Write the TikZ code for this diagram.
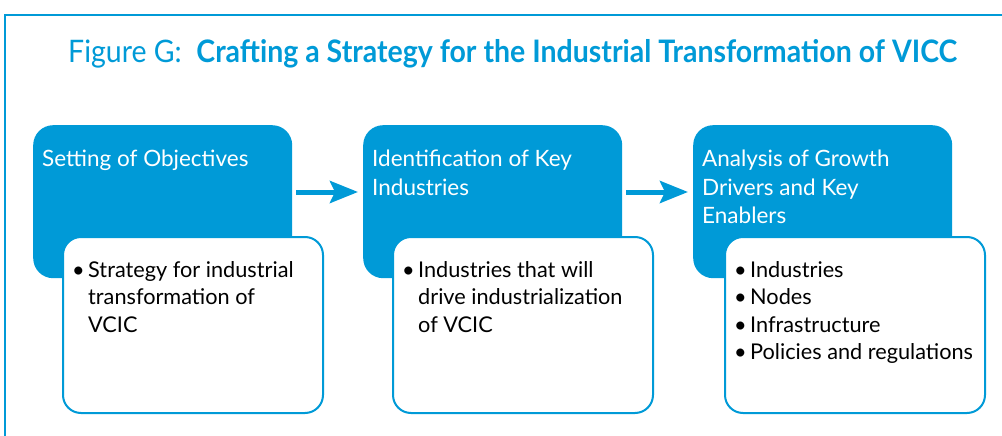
\documentclass[tikz,border=0pt]{standalone}
\usepackage{fontspec}
\setmainfont{Lato}
\usetikzlibrary{arrows.meta,calc}
\definecolor{adbblue}{RGB}{0,154,215}
\newcommand\bul{\makebox[16pt][l]{\textbullet}}
\newcommand\ind{\hspace*{16pt}}
\begin{document}
\begin{tikzpicture}[x=1pt,y=-1pt,
  bluebox/.style={fill=adbblue,draw=none,rounded corners=20pt,minimum width=259pt,minimum height=153pt,anchor=north west,inner sep=0pt},
  whitebox/.style={fill=white,draw=adbblue,line width=2pt,rounded corners=18pt,minimum width=260pt,minimum height=176pt,anchor=north west,inner sep=0pt},
  headtext/.style={text=white,anchor=north west,align=left,inner sep=0pt,font=\fontsize{22.5}{28.5}\selectfont},
  bodytext/.style={text=black,anchor=north west,align=left,inner sep=0pt,font=\fontsize{21.7}{27.5}\selectfont},
  flowarrow/.style={draw=adbblue,line width=5pt,-{Stealth[length=28pt,width=22pt,inset=5pt]}},
  frameline/.style={draw=adbblue,line width=1.5pt}]
\useasboundingbox (0,0) rectangle (1002,436);
\coordinate (fa) at (5,436);
\coordinate (fb) at (5,15);
\coordinate (fc) at (1002,15);
\draw[frameline] (fa) -- (fb) -- (fc);
\node[anchor=base west,inner sep=0pt,text=adbblue,font=\fontsize{31}{36}\selectfont] (title) at (68,63) {\scalebox{0.919}[1]{Figure G:\ \ \textbf{Crafting a Strategy for the Industrial Transformation of VICC}}};

\node[bluebox] (b1) at (33,125) {};
\node[bluebox] (b2) at (363,125) {};
\node[bluebox] (b3) at (693,125) {};

\node[headtext] (h1) at (42,150) {Setting of Objectives};
\node[headtext] (h2) at (372,150) {Identification of Key\\Industries};
\node[headtext] (h3) at (702,150) {Analysis of Growth\\Drivers and Key\\Enablers};

\node[whitebox] (w1) at (62,236) {};
\node[whitebox] (w2) at (392,236) {};
\node[whitebox] (w3) at (724,236) {};

\node[bodytext] (t1) at (72,261) {\bul Strategy for industrial\\\ind transformation of\\\ind VCIC};
\node[bodytext] (t2) at (402,261) {\bul Industries that will\\\ind drive industrialization\\\ind of VCIC};
\node[bodytext] (t3) at (734,261) {\bul Industries\\\bul Nodes\\\bul Infrastructure\\\bul Policies and regulations};

\draw[flowarrow] ($(b1.north east)+(4,67)$) -- ($(b2.north west)+(-5,67)$);
\draw[flowarrow] ($(b2.north east)+(4,67)$) -- ($(b3.north west)+(-5,67)$);
\end{tikzpicture}
\end{document}
